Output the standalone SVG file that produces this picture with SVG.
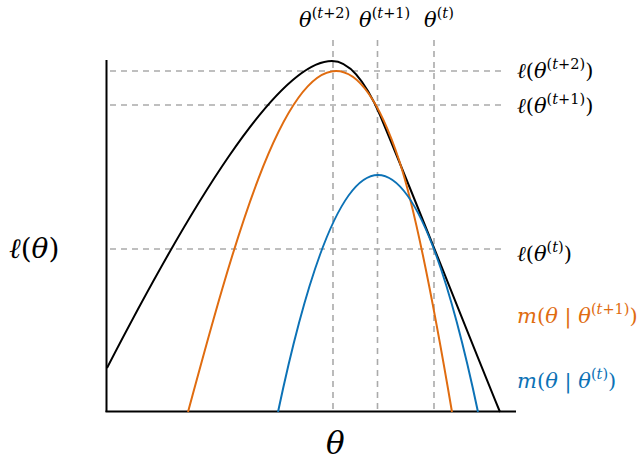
<svg xmlns="http://www.w3.org/2000/svg" width="641" height="460" viewBox="0 0 641 460">
<style>
.ax{stroke:#000;stroke-width:2;fill:none}
.dash{stroke:#aaaaaa;stroke-width:1.6;stroke-dasharray:6,5;fill:none}
.crv{fill:none;stroke-width:2}
text{font-family:"DejaVu Serif","Liberation Serif",serif;fill:#000}
.i{font-style:italic}
.lab{font-size:21px}
.sup{font-size:14.5px}
.or{fill:#e06c10}
.bl{fill:#0c72b6}
</style>
<rect width="641" height="460" fill="#fff"/>
<g id="guides">
<line class="dash" x1="110" y1="71" x2="506" y2="71"/>
<line class="dash" x1="110" y1="105" x2="506" y2="105"/>
<line class="dash" x1="110" y1="249" x2="506" y2="249"/>
<line class="dash" x1="333" y1="40" x2="333" y2="411"/>
<line class="dash" x1="377.5" y1="40" x2="377.5" y2="411"/>
<line class="dash" x1="434" y1="40" x2="434" y2="411"/>
</g>
<g id="axes">
<line class="ax" x1="106.5" y1="60" x2="106.5" y2="412"/>
<line class="ax" x1="105.5" y1="411.5" x2="516" y2="411.5"/>
</g>
<g id="connectors">
<path id="loglik" class="crv" stroke="#000" d="M107,368 C187,212.8 277,61 332,61 C350,61 366,83 380,115 C420,211 460,314 500,412"/>
<path id="minor1" class="crv" stroke="#e06c10" d="M188,412 C233,245.5 281,71 336,71 C357,71 378,97 399,160 C417,214 438,329.4 452,412"/>
<path id="minor0" class="crv" stroke="#0c72b6" d="M278,412 Q378,-62 478,412"/>
</g>
<g id="top-labels">
<text class="lab" x="299" y="27"><tspan class="i">θ</tspan><tspan class="sup" dy="-9">(<tspan class="i">t</tspan>+2)</tspan></text>
<text class="lab" x="359" y="27"><tspan class="i">θ</tspan><tspan class="sup" dy="-9">(<tspan class="i">t</tspan>+1)</tspan></text>
<text class="lab" x="424" y="27"><tspan class="i">θ</tspan><tspan class="sup" dy="-9">(<tspan class="i">t</tspan>)</tspan></text>
</g>
<g id="right-labels">
<text class="lab" x="517" y="78"><tspan class="i">ℓ</tspan>(<tspan class="i">θ</tspan><tspan class="sup" dy="-9">(<tspan class="i">t</tspan>+2)</tspan><tspan dy="9">)</tspan></text>
<text class="lab" x="517" y="113"><tspan class="i">ℓ</tspan>(<tspan class="i">θ</tspan><tspan class="sup" dy="-9">(<tspan class="i">t</tspan>+1)</tspan><tspan dy="9">)</tspan></text>
<text class="lab" x="517" y="261"><tspan class="i">ℓ</tspan>(<tspan class="i">θ</tspan><tspan class="sup" dy="-9">(<tspan class="i">t</tspan>)</tspan><tspan dy="9">)</tspan></text>
<text class="lab or" x="517" y="323"><tspan class="i">m</tspan>(<tspan class="i">θ</tspan> | <tspan class="i">θ</tspan><tspan class="sup" dy="-9">(<tspan class="i">t</tspan>+1)</tspan><tspan dy="9">)</tspan></text>
<text class="lab bl" x="517" y="388"><tspan class="i">m</tspan>(<tspan class="i">θ</tspan> | <tspan class="i">θ</tspan><tspan class="sup" dy="-9">(<tspan class="i">t</tspan>)</tspan><tspan dy="9">)</tspan></text>
</g>
<g id="axis-labels">
<text x="9" y="258" font-size="28"><tspan class="i">ℓ</tspan>(<tspan class="i">θ</tspan>)</text>
<text class="i" x="326" y="454" font-size="31">θ</text>
</g>
</svg>
